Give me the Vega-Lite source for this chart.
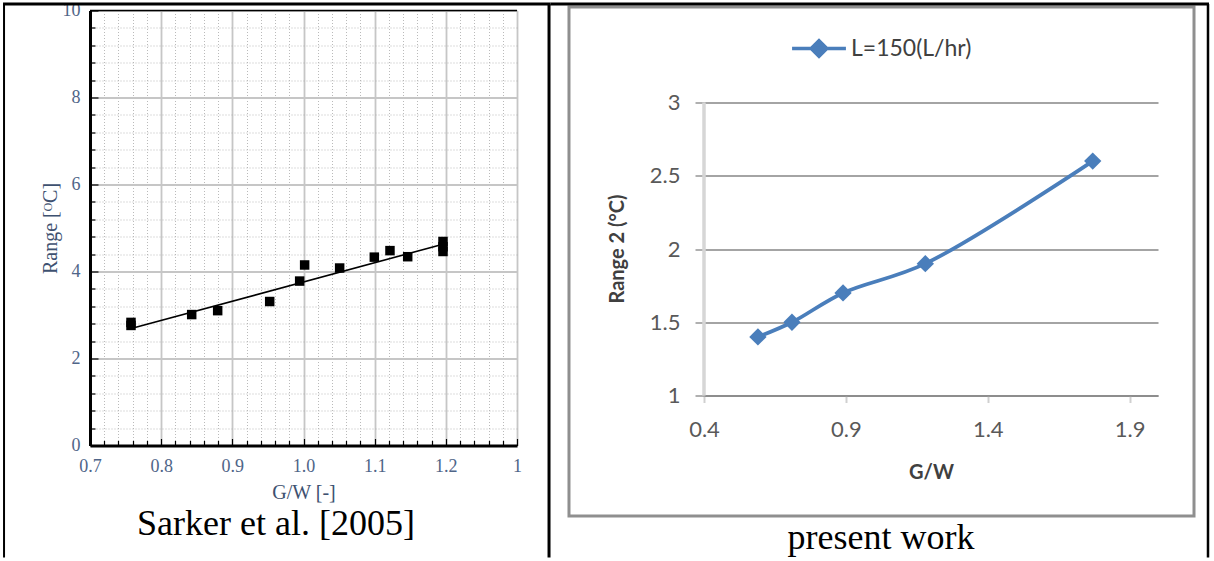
{
  "$schema": "https://vega.github.io/schema/vega-lite/v6.json",
  "padding": {"left": 1, "top": 1.5, "right": 0, "bottom": 0},
  "background": "white",
  "bounds": "flush",
  "spacing": 187,
  "config": {"view": {"stroke": null}},
  "datasets": {
    "sarker": [
      {"gw": 0.7576, "range": 2.83},
      {"gw": 0.7576, "range": 2.76},
      {"gw": 0.8429, "range": 3.01},
      {"gw": 0.8794, "range": 3.10},
      {"gw": 0.9525, "range": 3.31},
      {"gw": 0.9946, "range": 3.78},
      {"gw": 1.0016, "range": 4.15},
      {"gw": 1.0508, "range": 4.08},
      {"gw": 1.0995, "range": 4.33},
      {"gw": 1.1215, "range": 4.48},
      {"gw": 1.1464, "range": 4.34},
      {"gw": 1.196, "range": 4.69},
      {"gw": 1.196, "range": 4.57},
      {"gw": 1.196, "range": 4.46}
    ],
    "sarker_fit": [
      {"gw": 0.7618, "range": 2.705},
      {"gw": 1.1998, "range": 4.644}
    ],
    "present": [
      {"gw": 0.59, "range": 1.4, "series": "L=150(L/hr)"},
      {"gw": 0.71, "range": 1.5, "series": "L=150(L/hr)"},
      {"gw": 0.89, "range": 1.7, "series": "L=150(L/hr)"},
      {"gw": 1.18, "range": 1.9, "series": "L=150(L/hr)"},
      {"gw": 1.77, "range": 2.6, "series": "L=150(L/hr)"}
    ],
    "frame": [{}]
  },
  "resolve": {"scale": {"x": "independent", "y": "independent", "color": "independent"}},
  "hconcat": [
    {
      "width": 427,
      "height": 435,
      "layer": [
        {
          "data": {"name": "sarker"},
          "mark": {"type": "square", "color": "black", "size": 90, "opacity": 1},
          "encoding": {
            "x": {
              "field": "gw", "type": "quantitative",
              "scale": {"domain": [0.7, 1.3], "nice": false, "zero": false},
              "axis": {
                "title": "G/W [-]",
                "values": [0.7,0.72,0.74,0.76,0.78,0.8,0.82,0.84,0.86,0.88,0.9,0.92,0.94,0.96,0.98,1.0,1.02,1.04,1.06,1.08,1.1,1.12,1.14,1.16,1.18,1.2,1.22,1.24,1.26,1.28,1.3],
                "tickCount": 200,
                "labelExpr": "abs(datum.value*10 - round(datum.value*10)) < 0.001 ? (datum.value > 1.29 ? '1' : format(datum.value, '.1f')) : ''",
                "labelFlush": false,
                "labelOverlap": false,
                "labelFont": "Liberation Serif",
                "labelFontSize": 18,
                "labelColor": "#4f6588",
                "labelPadding": 19,
                "titleFont": "Liberation Serif",
                "titleFontSize": 20,
                "titleFontWeight": "normal",
                "titleColor": "#3e5170",
                "titlePadding": 5,
                "domainColor": "black",
                "domainWidth": 3,
                "tickColor": "black",
                "tickWidth": 1.2,
                "tickSize": {"condition": {"test": "abs(datum.value*10 - round(datum.value*10)) < 0.001", "value": -7}, "value": -5},
                "grid": true,
                "gridColor": {"condition": {"test": "abs(datum.value*10 - round(datum.value*10)) < 0.001", "value": "#c6c6c6"}, "value": "#a8a8a8"},
                "gridWidth": {"condition": {"test": "abs(datum.value*10 - round(datum.value*10)) < 0.001", "value": 1.8}, "value": 0.8},
                "gridDash": {"condition": {"test": "abs(datum.value*10 - round(datum.value*10)) < 0.001", "value": []}, "value": [1, 2]}
              }
            },
            "y": {
              "field": "range", "type": "quantitative",
              "scale": {"domain": [0, 10], "nice": false, "zero": false},
              "axis": {
                "title": "Range [ᴼC]",
                "values": [0,0.4,0.8,1.2,1.6,2,2.4,2.8,3.2,3.6,4,4.4,4.8,5.2,5.6,6,6.4,6.8,7.2,7.6,8,8.4,8.8,9.2,9.6,10],
                "tickCount": 200,
                "labelExpr": "abs(datum.value/2 - round(datum.value/2)) < 0.001 ? format(datum.value, 'd') : ''",
                "labelFlush": false,
                "labelOverlap": false,
                "labelFont": "Liberation Serif",
                "labelFontSize": 18,
                "labelColor": "#4f6588",
                "labelPadding": 18,
                "titleFont": "Liberation Serif",
                "titleFontSize": 20,
                "titleFontWeight": "normal",
                "titleColor": "#3e5170",
                "titlePadding": 2,
                "domainColor": "black",
                "domainWidth": 3,
                "tickColor": "black",
                "tickWidth": 1.2,
                "tickSize": {"condition": {"test": "abs(datum.value/2 - round(datum.value/2)) < 0.001", "value": -8}, "value": -5},
                "grid": true,
                "gridColor": {"condition": {"test": "abs(datum.value/2 - round(datum.value/2)) < 0.001", "value": "#c6c6c6"}, "value": "#a8a8a8"},
                "gridWidth": {"condition": {"test": "abs(datum.value/2 - round(datum.value/2)) < 0.001", "value": 1.8}, "value": 0.8},
                "gridDash": {"condition": {"test": "abs(datum.value/2 - round(datum.value/2)) < 0.001", "value": []}, "value": [1, 2]}
              }
            }
          }
        },
        {
          "data": {"name": "sarker_fit"},
          "mark": {"type": "line", "color": "black", "strokeWidth": 1.6},
          "encoding": {
            "x": {"field": "gw", "type": "quantitative"},
            "y": {"field": "range", "type": "quantitative"}
          }
        },
        {
          "data": {"name": "frame"},
          "mark": {"type": "rule", "color": "black", "strokeWidth": 3},
          "encoding": {
            "x": {"datum": 0.5778, "type": "quantitative"},
            "x2": {"datum": 1.3471},
            "y": {"datum": 10.149, "type": "quantitative"}
          }
        },
        {
          "data": {"name": "frame"},
          "mark": {"type": "rule", "color": "black", "strokeWidth": 1.5},
          "encoding": {
            "x": {"datum": 0.7, "type": "quantitative"},
            "x2": {"datum": 1.3},
            "y": {"datum": 10, "type": "quantitative"}
          }
        },
        {
          "data": {"name": "frame"},
          "mark": {"type": "rule", "color": "black", "strokeWidth": 2},
          "encoding": {
            "x": {"datum": 0.5792, "type": "quantitative"},
            "y": {"datum": 10.149, "type": "quantitative"},
            "y2": {"datum": -2.575}
          }
        },
        {
          "data": {"name": "frame"},
          "mark": {"type": "rule", "color": "black", "strokeWidth": 3},
          "encoding": {
            "x": {"datum": 1.345, "type": "quantitative"},
            "y": {"datum": 10.149, "type": "quantitative"},
            "y2": {"datum": -2.575}
          }
        },
        {
          "data": {"name": "frame"},
          "mark": {"type": "text", "text": "Sarker et al. [2005]", "font": "Liberation Serif", "fontSize": 36, "align": "center", "baseline": "alphabetic", "color": "black"},
          "encoding": {
            "x": {"datum": 0.9614, "type": "quantitative"},
            "y": {"datum": -2.046, "type": "quantitative"}
          }
        }
      ]
    },
    {
      "width": 454,
      "height": 385,
      "layer": [
        {
          "data": {"name": "frame"},
          "mark": {"type": "rule", "color": "#d6d6d6", "strokeWidth": 3.5},
          "encoding": {
            "x": {"datum": 0.4, "type": "quantitative"},
            "y": {"datum": 1, "type": "quantitative"},
            "y2": {"datum": 3}
          }
        },
        {
          "data": {"name": "present"},
          "mark": {"type": "line", "interpolate": "catmull-rom", "strokeWidth": 3.8},
          "encoding": {
            "x": {
              "field": "gw", "type": "quantitative",
              "scale": {"domain": [0.4, 2.0], "nice": false, "zero": false},
              "axis": {
                "title": "G/W",
                "values": [0.4, 0.9, 1.4, 1.9],
                "format": "~g",
                "labelFlush": false,
                "labelOverlap": false,
                "labelFont": "Lato",
                "labelFontSize": 22,
                "labelColor": "#595959",
                "labelPadding": 17,
                "titleFont": "Lato",
                "titleFontSize": 20,
                "titleFontWeight": "bold",
                "titleColor": "#404040",
                "titlePadding": 22,
                "domainColor": "#868686",
                "domainWidth": 1.3,
                "tickColor": "#d0d0d0",
                "tickWidth": 2,
                "tickSize": 7,
                "grid": false
              }
            },
            "y": {
              "field": "range", "type": "quantitative",
              "scale": {"domain": [1, 3.628], "nice": false, "zero": false},
              "axis": {
                "title": "Range 2 (°C)",
                "titleY": 238,
                "values": [1, 1.5, 2, 2.5, 3],
                "format": "~g",
                "labelFlush": false,
                "labelOverlap": false,
                "labelFont": "Lato",
                "labelFontSize": 22,
                "labelColor": "#595959",
                "labelPadding": 15,
                "titleFont": "Lato",
                "titleFontSize": 20,
                "titleFontWeight": "bold",
                "titleColor": "#404040",
                "titlePadding": 22,
                "domain": false,
                "tickColor": "#868686",
                "tickWidth": 1.3,
                "tickSize": 9,
                "grid": true,
                "gridColor": "#868686",
                "gridWidth": 1.3
              }
            },
            "color": {
              "field": "series", "type": "nominal",
              "scale": {"range": ["#4a7ebb"]},
              "legend": {
                "orient": "none",
                "legendX": 86,
                "legendY": 9,
                "title": null,
                "symbolType": "M-1,0L1,0M0,-0.29L0.29,0L0,0.29L-0.29,0Z",
                "symbolSize": 2900,
                "symbolStrokeWidth": 3.5,
                "symbolFillColor": "#4a7ebb",
                "symbolStrokeColor": "#4a7ebb",
                "labelFont": "Lato",
                "labelFontSize": 23,
                "labelColor": "#404040",
                "labelOffset": 3
              }
            }
          }
        },
        {
          "data": {"name": "present"},
          "mark": {"type": "point", "shape": "diamond", "filled": true, "size": 300, "opacity": 1},
          "encoding": {
            "x": {"field": "gw", "type": "quantitative"},
            "y": {"field": "range", "type": "quantitative"},
            "color": {"field": "series", "type": "nominal"}
          }
        },
        {
          "data": {"name": "frame"},
          "mark": {"type": "rect", "fillOpacity": 0, "stroke": "#8f8f8f", "strokeWidth": 3},
          "encoding": {
            "x": {"datum": -0.0758, "type": "quantitative"},
            "x2": {"datum": 2.1269},
            "y": {"datum": 3.6519, "type": "quantitative"},
            "y2": {"datum": 0.1775}
          }
        },
        {
          "data": {"name": "frame"},
          "mark": {"type": "rule", "color": "black", "strokeWidth": 3},
          "encoding": {
            "x": {"datum": -0.141, "type": "quantitative"},
            "x2": {"datum": 2.1797},
            "y": {"datum": 3.6724, "type": "quantitative"}
          }
        },
        {
          "data": {"name": "frame"},
          "mark": {"type": "rule", "color": "black", "strokeWidth": 2.5},
          "encoding": {
            "x": {"datum": 2.1762, "type": "quantitative"},
            "y": {"datum": 3.6724, "type": "quantitative"},
            "y2": {"datum": -0.1058}
          }
        },
        {
          "data": {"name": "frame"},
          "mark": {"type": "text", "text": "present work", "font": "Liberation Serif", "fontSize": 36, "align": "center", "baseline": "alphabetic", "color": "black"},
          "encoding": {
            "x": {"datum": 1.0238, "type": "quantitative"},
            "y": {"datum": -0.0444, "type": "quantitative"}
          }
        }
      ]
    }
  ]
}
